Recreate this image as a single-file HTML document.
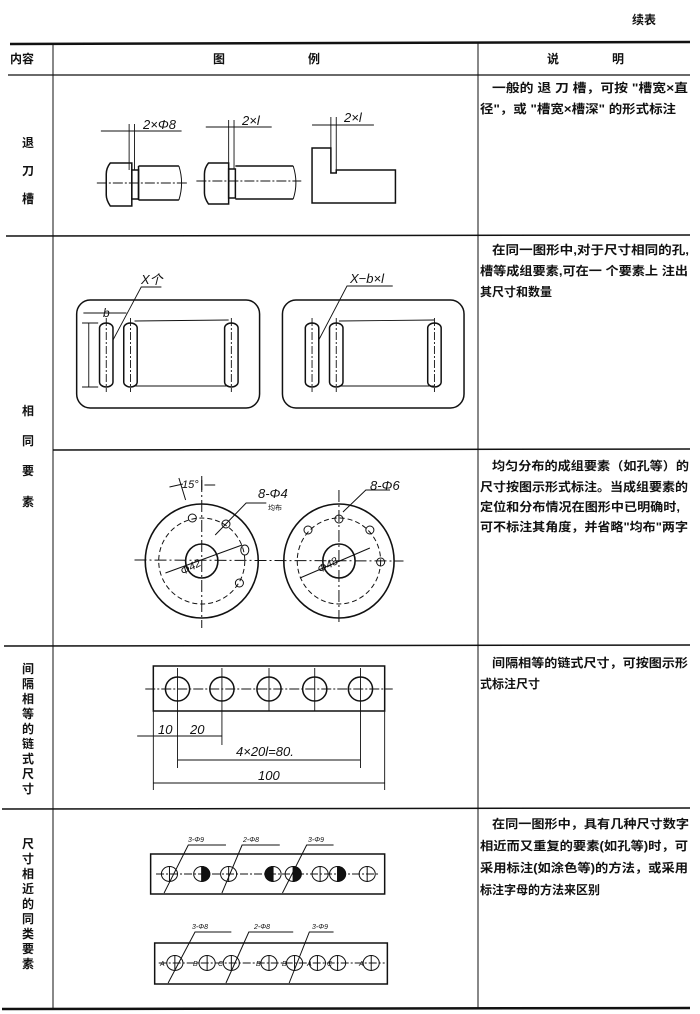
<!DOCTYPE html>
<html><head><meta charset="utf-8"><style>
html,body{margin:0;padding:0;background:#fff;}
svg{display:block;}
text{font-family:"Liberation Sans","Noto Sans CJK SC",sans-serif;fill:#111;}
.cn{font-size:12px;font-weight:bold;}
.it{font-style:italic;font-size:13px;}
.s *{vector-effect:non-scaling-stroke;}
</style></head><body>
<svg width="700" height="1014" viewBox="0 0 700 1014" xmlns="http://www.w3.org/2000/svg">
<g stroke="#111" fill="none">
<!-- table -->
<line x1="10" y1="44" x2="690" y2="42" stroke-width="2.5"/>
<line x1="8" y1="75" x2="690" y2="75" stroke-width="1.2"/>
<line x1="6" y1="236" x2="690" y2="235" stroke-width="1.5"/>
<line x1="53" y1="450" x2="690" y2="449" stroke-width="1.5"/>
<line x1="4" y1="646" x2="690" y2="645" stroke-width="1.5"/>
<line x1="2" y1="809" x2="690" y2="808" stroke-width="1.5"/>
<line x1="2" y1="1009" x2="690" y2="1008" stroke-width="2.5"/>
<line x1="53" y1="44" x2="53" y2="1009" stroke-width="1"/>
<line x1="478" y1="42" x2="478" y2="1008" stroke-width="1"/>

<g class="s" transform="scale(1.345 1)">
<!-- Row 1 -->
<g stroke-width="1.5">
<path d="M82,163 L98,163 L98,206 L82,206 Q79,200 79,195 L79,174 Q79,168 82,163 Z"/>
<rect x="98" y="170" width="5" height="29"/>
<path d="M103,166 L133,166 M103,200 L133,200 M103,166 L103,200"/>
<path d="M133,166 Q137,183 133,200" stroke-width="1"/>
<path d="M155,163 L170,163 L170,204 L155,204 Q152,198 152,193 L152,174 Q152,168 155,163 Z"/>
<rect x="170" y="169" width="5" height="29"/>
<path d="M175,166 L218,166 M175,199 L218,199"/>
<path d="M218,166 Q222,183 218,199" stroke-width="1"/>
<path d="M232,203 L232,148 L246,148 L246,173 L250,173 L250,170 L294,170 L294,203 Z"/>
</g>
<g stroke-width="0.9">
<line x1="72" y1="183" x2="140" y2="183" stroke-dasharray="10,2,2,2"/>
<line x1="146" y1="181" x2="224" y2="181" stroke-dasharray="10,2,2,2"/>
<line x1="96" y1="124" x2="96" y2="170"/><line x1="100" y1="124" x2="100" y2="170"/>
<line x1="75" y1="131" x2="135" y2="131"/>
<line x1="170" y1="120" x2="170" y2="169"/><line x1="174" y1="120" x2="174" y2="169"/>
<line x1="153" y1="127" x2="202" y2="127"/>
<line x1="246" y1="117" x2="246" y2="148"/><line x1="250" y1="117" x2="250" y2="173"/>
<line x1="232" y1="125" x2="278" y2="125"/>
</g>

<!-- Row 2 -->
<g stroke-width="1.5">
<rect x="57" y="300" width="136" height="108" rx="10" ry="14"/>
<rect x="74" y="323" width="10" height="64" rx="5"/>
<rect x="92" y="323" width="10" height="64" rx="5"/>
<rect x="167" y="323" width="10" height="64" rx="5"/>
<rect x="210" y="300" width="135" height="108" rx="10" ry="14"/>
<rect x="227" y="323" width="10" height="64" rx="5"/>
<rect x="245" y="323" width="10" height="64" rx="5"/>
<rect x="318" y="323" width="10" height="64" rx="5"/>
</g>
<g stroke-width="0.9">
<path d="M100,321 L170,320 M100,386 L170,386 M252,321 L323,320 M252,386 L323,386"/>
<path d="M79,318 L79,392 M97,318 L97,392 M172,318 L172,392 M232,318 L232,392 M250,318 L250,392 M323,318 L323,392" stroke-dasharray="8,2,2,2"/>
<path d="M62,313 L94,313"/>
<path d="M61,323 L73,323 M61,387 L73,387 M66,323 L66,387"/>
<path d="M84,340 L105,287 L120,287"/>
<path d="M237,340 L258,286 L292,286"/>
</g>

<!-- Row 3 -->
<g stroke-width="1.6">
<ellipse cx="150" cy="561" rx="42" ry="57"/>
<ellipse cx="150" cy="561" rx="12" ry="17"/>
<ellipse cx="252" cy="561" rx="41" ry="57"/>
<ellipse cx="252" cy="561" rx="12" ry="17"/>
</g>
<g stroke-width="1">
<ellipse cx="150" cy="561" rx="32" ry="43" stroke-dasharray="5,3"/>
<ellipse cx="252" cy="561" rx="31" ry="43" stroke-dasharray="5,3"/>
<line x1="100" y1="560" x2="300" y2="561" stroke-dasharray="12,3,2,3"/>
<line x1="150" y1="480" x2="150" y2="628" stroke-dasharray="12,3,2,3"/>
<line x1="252" y1="490" x2="252" y2="622" stroke-dasharray="12,3,2,3"/>
<ellipse cx="143" cy="518" rx="3" ry="4"/>
<ellipse cx="168" cy="524" rx="3" ry="4"/>
<ellipse cx="182" cy="550" rx="3" ry="5"/>
<ellipse cx="178" cy="583" rx="3" ry="4"/>
<ellipse cx="252" cy="519" rx="3" ry="4"/>
<ellipse cx="229" cy="530" rx="3" ry="4"/>
<ellipse cx="275" cy="530" rx="3" ry="4"/>
<ellipse cx="283" cy="562" rx="3" ry="4"/>
<path d="M123,573 L180,545 M223,578 L275,548"/>
<path d="M160,535 L183,503 L198,503 M255,512 L272,490 L290,490"/>
<path d="M133,478 L138,500 M150,476 L150,490 M126,487 L136,484 M152,485 L160,485"/>
</g>

<!-- Row 4 -->
<g stroke-width="1.5">
<rect x="114" y="666" width="172" height="45"/>
<ellipse cx="132" cy="689" rx="9" ry="12"/>
<ellipse cx="165" cy="689" rx="9" ry="12"/>
<ellipse cx="200" cy="689" rx="9" ry="12"/>
<ellipse cx="234" cy="689" rx="9" ry="12"/>
<ellipse cx="268" cy="689" rx="9" ry="12"/>
</g>
<g stroke-width="0.9">
<line x1="108" y1="689" x2="292" y2="689" stroke-dasharray="10,2,2,2"/>
<path d="M132,668 L132,768 M165,668 L165,745 M200,668 L200,711 M234,668 L234,711 M268,668 L268,768 M114,711 L114,790 M286,711 L286,790"/>
<path d="M102,736 L165,736 M132,760 L268,760 M114,783 L286,783"/>
</g>

<!-- Row 5 -->
<g stroke-width="1.5">
<rect x="112" y="854" width="174" height="40"/>
<rect x="115" y="943" width="173" height="41"/>
</g>
<g stroke-width="1">
<line x1="116" y1="874" x2="282" y2="874" stroke-dasharray="8,2,2,2"/>
<line x1="118" y1="963" x2="286" y2="963" stroke-dasharray="8,2,2,2"/>
<g>
<ellipse cx="126" cy="874" rx="6" ry="7.5"/><ellipse cx="150" cy="874" rx="6" ry="7.5"/><ellipse cx="170" cy="874" rx="6" ry="7.5"/><ellipse cx="203" cy="874" rx="6" ry="7.5"/><ellipse cx="218" cy="874" rx="6" ry="7.5"/><ellipse cx="238" cy="874" rx="6" ry="7.5"/><ellipse cx="251" cy="874" rx="6" ry="7.5"/><ellipse cx="273" cy="874" rx="6" ry="7.5"/>
<ellipse cx="130" cy="963" rx="6" ry="7.5"/><ellipse cx="154" cy="963" rx="6" ry="7.5"/><ellipse cx="172" cy="963" rx="6" ry="7.5"/><ellipse cx="200" cy="963" rx="6" ry="7.5"/><ellipse cx="219" cy="963" rx="6" ry="7.5"/><ellipse cx="236" cy="963" rx="6" ry="7.5"/><ellipse cx="251" cy="963" rx="6" ry="7.5"/><ellipse cx="276" cy="963" rx="6" ry="7.5"/>
</g>
<path d="M150,866.5 A6,7.5 0 0 1 150,881.5 Z M203,866.5 A6,7.5 0 0 0 203,881.5 Z M218,866.5 A6,7.5 0 0 1 218,881.5 Z M251,866.5 A6,7.5 0 0 1 251,881.5 Z" fill="#111"/>
<path d="M126,866 L126,882 M150,866 L150,882 M170,866 L170,882 M203,866 L203,882 M218,866 L218,882 M238,866 L238,882 M251,866 L251,882 M273,866 L273,882"/>
<path d="M130,955 L130,971 M154,955 L154,971 M172,955 L172,971 M200,955 L200,971 M219,955 L219,971 M236,955 L236,971 M251,955 L251,971 M276,955 L276,971"/>
<path d="M122,893 L140,845 L168,845 M165,893 L180,845 L208,845 M210,893 L228,845 L248,845"/>
<path d="M125,983 L145,932 L172,932 M168,983 L185,932 L218,932 M215,983 L230,932 L248,932"/>
</g>
</g>
</g>

<!-- Texts -->
<text x="632" y="24" class="cn" font-size="13">续表</text>
<text x="10" y="63" class="cn" font-size="11">内容</text>
<text x="213" y="63" class="cn">图</text>
<text x="308" y="63" class="cn">例</text>
<text x="547" y="63" class="cn">说</text>
<text x="612" y="63" class="cn">明</text>

<g class="cn" font-size="12">
<text x="22" y="147">退</text><text x="22" y="175">刀</text><text x="22" y="203">槽</text>
<text x="22" y="415">相</text><text x="22" y="445">同</text><text x="22" y="475">要</text><text x="22" y="506">素</text>
</g>
<g class="cn" font-size="12.5">
<text x="22" y="673">间</text><text x="22" y="688">隔</text><text x="22" y="703">相</text><text x="22" y="718">等</text><text x="22" y="733">的</text><text x="22" y="748">链</text><text x="22" y="763">式</text><text x="22" y="778">尺</text><text x="22" y="793">寸</text>
<text x="22" y="848">尺</text><text x="22" y="863">寸</text><text x="22" y="878">相</text><text x="22" y="893">近</text><text x="22" y="908">的</text><text x="22" y="923">同</text><text x="22" y="938">类</text><text x="22" y="953">要</text><text x="22" y="968">素</text>
</g>

<g class="cn" font-size="11.5">
<text x="492" y="92" textLength="196" lengthAdjust="spacingAndGlyphs">一般的 退 刀 槽，可按 "槽宽×直</text>
<text x="480" y="113" textLength="196" lengthAdjust="spacingAndGlyphs">径"，或 "槽宽×槽深" 的形式标注</text>
<text x="492" y="254" textLength="197" lengthAdjust="spacingAndGlyphs">在同一图形中,对于尺寸相同的孔,</text>
<text x="480" y="275" textLength="208" lengthAdjust="spacingAndGlyphs">槽等成组要素,可在一 个要素上 注出</text>
<text x="480" y="296">其尺寸和数量</text>
<text x="492" y="470" textLength="197" lengthAdjust="spacingAndGlyphs">均匀分布的成组要素（如孔等）的</text>
<text x="480" y="491" textLength="208" lengthAdjust="spacingAndGlyphs">尺寸按图示形式标注。当成组要素的</text>
<text x="480" y="511" textLength="200" lengthAdjust="spacingAndGlyphs">定位和分布情况在图形中已明确时,</text>
<text x="480" y="531" textLength="208" lengthAdjust="spacingAndGlyphs">可不标注其角度，并省略"均布"两字</text>
<text x="492" y="667" textLength="196" lengthAdjust="spacingAndGlyphs">间隔相等的链式尺寸，可按图示形</text>
<text x="480" y="688">式标注尺寸</text>
<text x="492" y="828" textLength="197" lengthAdjust="spacingAndGlyphs">在同一图形中，具有几种尺寸数字</text>
<text x="480" y="850" textLength="208" lengthAdjust="spacingAndGlyphs">相近而又重复的要素(如孔等)时，可</text>
<text x="480" y="872" textLength="208" lengthAdjust="spacingAndGlyphs">采用标注(如涂色等)的方法，或采用</text>
<text x="480" y="894">标注字母的方法来区别</text>
</g>

<!-- drawing labels -->
<g class="it">
<text x="143" y="129">2×Φ8</text>
<text x="242" y="125">2×l</text>
<text x="344" y="122">2×l</text>
<text x="141" y="284">X个</text>
<text x="350" y="283">X−b×l</text>
<text x="103" y="317" font-size="12">b</text>
<text x="182" y="488" font-size="11">15°</text>
<text x="258" y="498">8-Φ4</text>
<text x="268" y="510" font-size="7" font-style="normal">均布</text>
<text x="370" y="490">8-Φ6</text>
<text x="180" y="572" font-size="11" transform="rotate(-28 188 568)">Φ42</text>
<text x="317" y="570" font-size="11" transform="rotate(-28 325 566)">Φ48</text>
<text x="158" y="734">10</text>
<text x="190" y="734">20</text>
<text x="236" y="756">4×20l=80.</text>
<text x="258" y="780">100</text>
<text x="188" y="842" font-size="7">3-Φ9</text>
<text x="243" y="842" font-size="7">2-Φ8</text>
<text x="308" y="842" font-size="7">3-Φ9</text>
<text x="192" y="929" font-size="7">3-Φ8</text>
<text x="254" y="929" font-size="7">2-Φ8</text>
<text x="312" y="929" font-size="7">3-Φ9</text>
<text x="160" y="966" font-size="7">A</text><text x="193" y="966" font-size="7">B</text><text x="218" y="966" font-size="7">C</text><text x="256" y="966" font-size="7">B</text><text x="282" y="966" font-size="7">B</text><text x="307" y="966" font-size="7">A</text><text x="327" y="966" font-size="7">C</text><text x="359" y="966" font-size="7">A</text>
</g>
</svg>
</body></html>
